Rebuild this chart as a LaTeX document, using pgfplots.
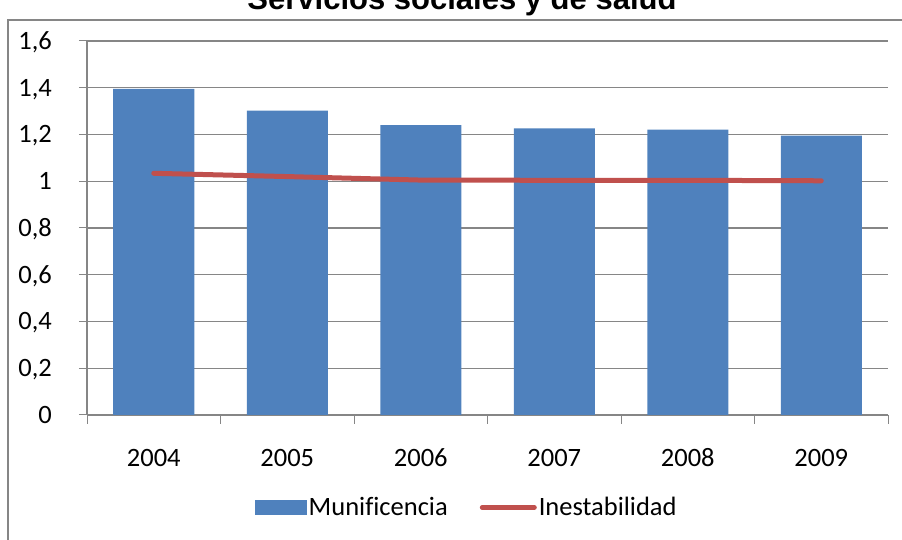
\documentclass[border=0pt]{standalone}
\usepackage{pgfplots}
\pgfplotsset{compat=1.18}
\usepackage{fontspec}
\setmainfont{Carlito}[Ligatures=NoCommon]
\newfontfamily\titlefont{Liberation Sans}
\definecolor{barblue}{HTML}{4F81BD}
\definecolor{linered}{HTML}{C0504D}
\definecolor{gridgray}{HTML}{868686}
\begin{document}
\begin{tikzpicture}[x=1pt,y=1pt]
\useasboundingbox (0,0) rectangle (902,540);
\draw[gridgray, line width=1.2pt] (8,520) rectangle (925,-20);
\node[anchor=base, font=\titlefont\bfseries\fontsize{31}{36}\selectfont] at (462,530) {Servicios sociales y de salud};
\begin{axis}[
  at={(87pt,125pt)}, anchor=south west,
  scale only axis, width=801pt, height=374pt,
  xmin=-0.5, xmax=5.5, ymin=0, ymax=1.6,
  ytick={0,0.2,...,1.6},
  xtick={0,1,2,3,4,5},
  xticklabels={2004,2005,2006,2007,2008,2009},
  minor xtick={-0.5,0.5,1.5,2.5,3.5,4.5,5.5},
  xtick style={draw=none},
  minor x tick style={draw=gridgray, line width=1pt},
  minor tick length=9pt,
  y tick style={draw=gridgray, line width=1pt},
  major tick length=8pt,
  tick align=outside,
  axis x line*=bottom, axis y line*=left,
  axis line style={draw=gridgray, line width=1.2pt, -},
  ymajorgrids, major grid style={draw=gridgray, line width=1.2pt},
  /pgf/number format/use comma,
  /pgf/number format/assume math mode=true,
  tick label style={font=\fontsize{26.5}{30}\selectfont},
  yticklabel style={anchor=base east, inner sep=0pt, xshift=-27pt, yshift=-8.4pt},
  xticklabel style={anchor=base, inner sep=0pt, yshift=-44pt},
  legend style={at={(0.474,-0.2473)}, anchor=center, draw=none, fill=none,
    legend columns=2, font=\fontsize{26.5}{30}\selectfont,
    /tikz/every even column/.append style={column sep=30pt}},
]
\addplot[ybar, bar width=81pt, fill=barblue, draw=none,
  legend image code/.code={\fill[barblue] (0pt,-7.5pt) rectangle (52pt,7.5pt);}]
  coordinates {(0,1.395) (1,1.302) (2,1.240) (3,1.226) (4,1.221) (5,1.195)};
\addlegendentry{Munificencia}
\addplot[linered, line width=5pt, line cap=round, line join=round,
  legend image code/.code={\draw[linered, line width=5pt, line cap=round] (2pt,0pt) -- (54pt,0pt);}]
  coordinates {(0,1.034) (1,1.020) (2,1.005) (3,1.004) (4,1.004) (5,1.002)};
\addlegendentry{Inestabilidad}
\end{axis}
\end{tikzpicture}
\end{document}
